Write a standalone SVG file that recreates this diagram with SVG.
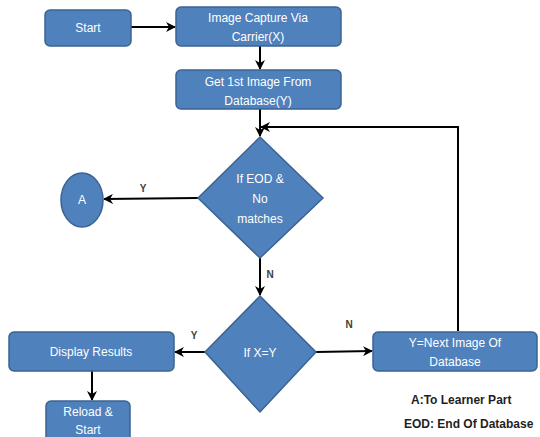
<svg xmlns="http://www.w3.org/2000/svg" width="540" height="437" viewBox="0 0 540 437">
  <style>
    .node { fill: #4F81BD; stroke: #3B6391; stroke-width: 1.5; }
    .label { fill: #FFFFFF; font-family: "Liberation Sans", Arial, sans-serif; font-size: 12px; text-anchor: middle; }
    .edge { fill: none; stroke: #000000; stroke-width: 2; }
    .tag { fill: #404040; font-family: "Liberation Sans", Arial, sans-serif; font-size: 10px; font-weight: bold; text-anchor: middle; }
    .legend { fill: #1F1F1F; font-family: "Liberation Sans", Arial, sans-serif; font-size: 12px; font-weight: bold; }
  </style>
  <defs>
    <marker id="arrow" viewBox="0 0 10 10" refX="9" refY="5" markerWidth="5" markerHeight="5" orient="auto">
      <path d="M0,0 L10,5 L0,10 L3,5 z" fill="#000000"/>
    </marker>
  </defs>
  <rect width="540" height="437" fill="#FFFFFF"/>

  <g id="connectors">
    <line class="edge" x1="131" y1="27" x2="175" y2="27" marker-end="url(#arrow)"/>
    <line class="edge" x1="260" y1="46" x2="260" y2="69" marker-end="url(#arrow)"/>
    <line class="edge" x1="260" y1="109" x2="260" y2="136" marker-end="url(#arrow)"/>
    <polyline class="edge" points="458,331 458,127 261,127" marker-end="url(#arrow)"/>
    <line class="edge" x1="198" y1="198" x2="104" y2="199" marker-end="url(#arrow)"/>
    <line class="edge" x1="260" y1="258" x2="260" y2="295" marker-end="url(#arrow)"/>
    <line class="edge" x1="205" y1="352" x2="175" y2="352" marker-end="url(#arrow)"/>
    <line class="edge" x1="316" y1="352" x2="372" y2="351" marker-end="url(#arrow)"/>
    <line class="edge" x1="92" y1="371" x2="92" y2="400" marker-end="url(#arrow)" stroke="#404040"/>
    <text class="tag" x="143" y="192">Y</text>
    <text class="tag" x="270" y="278">N</text>
    <text class="tag" x="194" y="339">Y</text>
    <text class="tag" x="349" y="328">N</text>
  </g>

  <g id="start">
    <rect class="node" x="45" y="10" width="86" height="36" rx="5"/>
    <text class="label" x="88" y="32">Start</text>
  </g>

  <g id="capture">
    <rect class="node" x="176" y="7" width="165" height="39" rx="5"/>
    <text class="label" x="258" y="22">Image Capture Via</text>
    <text class="label" x="258" y="41">Carrier(X)</text>
  </g>

  <g id="first-image">
    <rect class="node" x="176" y="70" width="165" height="39" rx="5"/>
    <text class="label" x="258" y="86">Get 1st Image From</text>
    <text class="label" x="258" y="105">Database(Y)</text>
  </g>

  <g id="eod-check">
    <polygon class="node" points="260,137 323,198 260,258 198,198"/>
    <text class="label" x="260" y="183">If EOD &amp;</text>
    <text class="label" x="260" y="203">No</text>
    <text class="label" x="260" y="223">matches</text>
  </g>

  <g id="connector-a">
    <ellipse class="node" cx="82" cy="200" rx="21" ry="27"/>
    <text class="label" x="82" y="204">A</text>
  </g>

  <g id="match-check">
    <polygon class="node" points="260,296 316,352 260,412 205,352"/>
    <text class="label" x="260" y="357">If X=Y</text>
  </g>

  <g id="display">
    <rect class="node" x="9" y="332" width="165" height="39" rx="5"/>
    <text class="label" x="91" y="356">Display Results</text>
  </g>

  <g id="next-image">
    <rect class="node" x="373" y="332" width="164" height="39" rx="5"/>
    <text class="label" x="455" y="347">Y=Next Image Of</text>
    <text class="label" x="455" y="366">Database</text>
  </g>

  <g id="reload">
    <rect class="node" x="46" y="401" width="84" height="40" rx="5"/>
    <text class="label" x="88" y="416">Reload &amp;</text>
    <text class="label" x="88" y="434">Start</text>
  </g>

  <g id="legend">
    <text class="legend" x="411" y="404">A:To Learner Part</text>
    <text class="legend" x="404" y="428">EOD: End Of Database</text>
  </g>
</svg>
